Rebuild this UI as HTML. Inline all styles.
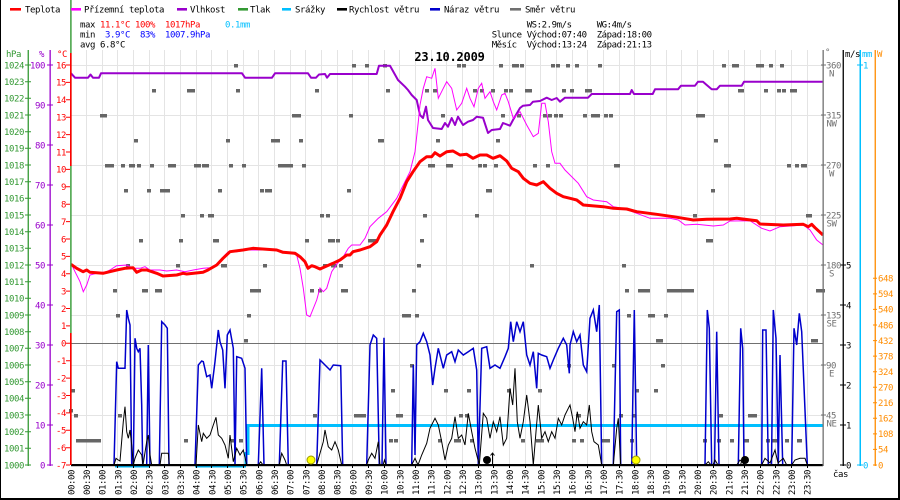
<!DOCTYPE html>
<html><head><meta charset="utf-8"><style>
html,body{margin:0;padding:0;background:#fff;}
svg{display:block;}
text{font-family:"DejaVu Sans Mono","Liberation Mono",monospace;font-size:9px;letter-spacing:-0.42px;}
.b{font-weight:bold;font-size:12px;letter-spacing:-0.2px;}
</style></head><body>
<svg width="900" height="500" viewBox="0 0 900 500" xmlns="http://www.w3.org/2000/svg">
<rect width="900" height="500" fill="#fff"/>
<!-- borders -->
<rect x="0" y="0" width="1" height="500" fill="#000"/>
<rect x="898" y="0" width="2" height="500" fill="#000"/>
<rect x="0" y="498" width="900" height="2" fill="#000"/>

<!-- grid -->
<path shape-rendering="crispEdges" stroke="#e4e4e4" stroke-width="1" fill="none" d="M86.5 50V465M102.5 50V465M117.5 50V465M133.5 50V465M149.5 50V465M164.5 50V465M180.5 50V465M196.5 50V465M211.5 50V465M227.5 50V465M243.5 50V465M258.5 50V465M274.5 50V465M290.5 50V465M305.5 50V465M321.5 50V465M337.5 50V465M352.5 50V465M368.5 50V465M384.5 50V465M399.5 50V465M415.5 50V465M431.5 50V465M446.5 50V465M462.5 50V465M478.5 50V465M493.5 50V465M509.5 50V465M525.5 50V465M540.5 50V465M556.5 50V465M572.5 50V465M587.5 50V465M603.5 50V465M619.5 50V465M634.5 50V465M650.5 50V465M666.5 50V465M681.5 50V465M697.5 50V465M713.5 50V465M728.5 50V465M744.5 50V465M760.5 50V465M775.5 50V465M791.5 50V465M807.5 50V465"/>
<path shape-rendering="crispEdges" stroke="#e4e4e4" stroke-width="1" fill="none" d="M71 65.5H823M71 115.5H823M71 165.5H823M71 215.5H823M71 265.5H823M71 315.5H823M71 365.5H823M71 415.5H823"/>
<path shape-rendering="crispEdges" stroke="#707070" stroke-width="1" d="M71 343.5H823"/>

<!-- title -->
<text class="b" x="449.5" y="61" text-anchor="middle" fill="#000">23.10.2009</text>

<!-- wind direction squares -->
<path shape-rendering="crispEdges" fill="#666" d="M234 64h4v3.4h-4zM352 64h4v3.4h-4zM365 64h4v3.4h-4zM383 64h4v3.4h-4zM457 64h4v3.4h-4zM462 64h4v3.4h-4zM499 64h4v3.4h-4zM512 64h7v3.4h-7zM520 64h4v3.4h-4zM551 64h4v3.4h-4zM556 64h4v3.4h-4zM566 64h4v3.4h-4zM575 64h4v3.4h-4zM598 64h4v3.4h-4zM722 64h4v3.4h-4zM732 64h7v3.4h-7zM756 64h8v3.4h-8zM769 64h4v3.4h-4zM780 64h4v3.4h-4z
M152 89h4v3.4h-4zM187 89h8v3.4h-8zM236 89h4v3.4h-4zM315 89h4v3.4h-4zM386 89h4v3.4h-4zM425 89h4v3.4h-4zM433 89h4v3.4h-4zM473 89h4v3.4h-4zM480 89h4v3.4h-4zM491 89h4v3.4h-4zM504 89h4v3.4h-4zM509 89h4v3.4h-4zM525 89h7v3.4h-7zM562 89h4v3.4h-4zM570 89h4v3.4h-4zM585 89h7v3.4h-7zM738 89h6v3.4h-6zM764 89h4v3.4h-4zM777 89h4v3.4h-4zM782 89h4v3.4h-4zM790 89h7v3.4h-7z
M100 114h7v3.4h-7zM292 114h9v3.4h-9zM349 114h4v3.4h-4zM441 114h4v3.4h-4zM501 114h4v3.4h-4zM517 114h4v3.4h-4zM543 114h4v3.4h-4zM548 114h4v3.4h-4zM554 114h4v3.4h-4zM559 114h4v3.4h-4zM583 114h4v3.4h-4zM591 114h9v3.4h-9zM604 114h4v3.4h-4zM609 114h4v3.4h-4zM696 114h9v3.4h-9z
M134 139h4v3.4h-4zM226 139h4v3.4h-4zM271 139h9v3.4h-9zM299 139h4v3.4h-4zM378 139h6v3.4h-6zM436 139h4v3.4h-4zM496 139h4v3.4h-4zM714 139h4v3.4h-4z
M105 164h9v3.4h-9zM121 164h4v3.4h-4zM129 164h6v3.4h-6zM137 164h4v3.4h-4zM150 164h4v3.4h-4zM168 164h8v3.4h-8zM194 164h7v3.4h-7zM202 164h7v3.4h-7zM229 164h4v3.4h-4zM242 164h4v3.4h-4zM278 164h15v3.4h-15zM302 164h4v3.4h-4zM428 164h7v3.4h-7zM446 164h7v3.4h-7zM478 164h4v3.4h-4zM483 164h4v3.4h-4zM494 164h4v3.4h-4zM533 164h4v3.4h-4zM546 164h4v3.4h-4zM614 164h6v3.4h-6zM724 164h7v3.4h-7zM787 164h4v3.4h-4zM795 164h4v3.4h-4zM801 164h6v3.4h-6z
M124 189h4v3.4h-4zM147 189h4v3.4h-4zM160 189h10v3.4h-10zM218 189h4v3.4h-4zM260 189h4v3.4h-4zM265 189h7v3.4h-7zM347 189h4v3.4h-4zM486 189h6v3.4h-6zM711 189h4v3.4h-4z
M181 214h4v3.4h-4zM200 214h4v3.4h-4zM208 214h6v3.4h-6zM320 214h4v3.4h-4zM326 214h4v3.4h-4zM423 214h4v3.4h-4zM475 214h4v3.4h-4zM693 214h4v3.4h-4zM806 214h6v3.4h-6z
M139 239h4v3.4h-4zM179 239h4v3.4h-4zM213 239h6v3.4h-6zM305 239h4v3.4h-4zM328 239h7v3.4h-7zM336 239h4v3.4h-4zM368 239h10v3.4h-10zM420 239h4v3.4h-4zM706 239h7v3.4h-7z
M126 264h4v3.4h-4zM176 264h4v3.4h-4zM221 264h6v3.4h-6zM263 264h4v3.4h-4zM323 264h4v3.4h-4zM331 264h6v3.4h-6zM339 264h4v3.4h-4zM417 264h4v3.4h-4zM530 264h4v3.4h-4zM622 264h4v3.4h-4z
M113 289h4v3.4h-4zM142 289h6v3.4h-6zM155 289h7v3.4h-7zM250 289h11v3.4h-11zM310 289h4v3.4h-4zM318 289h4v3.4h-4zM341 289h7v3.4h-7zM412 289h4v3.4h-4zM625 289h4v3.4h-4zM638 289h12v3.4h-12zM667 289h27v3.4h-27zM816 289h9v3.4h-9z
M116 314h4v3.4h-4zM247 314h4v3.4h-4zM402 314h9v3.4h-9zM415 314h4v3.4h-4zM627 314h4v3.4h-4zM648 314h7v3.4h-7zM664 314h4v3.4h-4z
M244 339h4v3.4h-4zM656 339h7v3.4h-7zM811 339h7v3.4h-7z
M410 364h4v3.4h-4zM567 364h4v3.4h-4zM612 364h4v3.4h-4zM661 364h4v3.4h-4z
M71 389h4v3.4h-4zM391 389h4v3.4h-4zM444 389h4v3.4h-4zM467 389h4v3.4h-4zM507 389h4v3.4h-4zM538 389h4v3.4h-4zM635 389h4v3.4h-4zM654 389h4v3.4h-4z
M69 409h4v3.4h-4zM74 414h4v3.4h-4zM118 414h4v3.4h-4zM313 414h4v3.4h-4zM354 414h12v3.4h-12zM396 414h7v3.4h-7zM459 414h4v3.4h-4zM465 414h4v3.4h-4zM576 414h5v3.4h-5zM619 414h4v3.4h-4zM632 414h4v3.4h-4zM719 414h4v3.4h-4zM748 414h9v3.4h-9z
M76 439h25v3.4h-25zM184 439h4v3.4h-4zM231 439h4v3.4h-4zM239 439h4v3.4h-4zM389 439h4v3.4h-4zM394 439h4v3.4h-4zM438 439h4v3.4h-4zM454 439h7v3.4h-7zM470 439h4v3.4h-4zM521 439h4v3.4h-4zM536 439h8v3.4h-8zM572 439h4v3.4h-4zM580 439h4v3.4h-4zM601 439h9v3.4h-9zM630 439h4v3.4h-4zM703 439h4v3.4h-4zM717 439h4v3.4h-4zM730 439h4v3.4h-4zM743 439h6v3.4h-6zM766 439h4v3.4h-4zM772 439h6v3.4h-6zM785 439h4v3.4h-4zM797 439h5v3.4h-5z"/>

<!-- rain -->
<path fill="none" stroke="#00bfff" stroke-width="2" d="M115 466.5H150M195 466.5H246"/>
<path fill="none" stroke="#00bfff" stroke-width="3" d="M246 465V453.5H248V425.5H823"/>

<!-- humidity -->
<path fill="none" stroke="#9900cc" stroke-width="2" stroke-linejoin="round" d="M71 73.3L75 77.7L88 77.7L90.5 74.5L93 77.7L99 77.7L101 73.3L242 73.3L245 77.7L272 77.7L275 73.3L308 73.3L311 77.7L316 77.7L319 74.5L325 74L327 77.7L330 74L376.7 74L379 65.7L390 65.7L398 80L405 86.7L408 90L411.7 95L416.7 100L420 115L423 118L426 106.7L428 120L433 128L441.7 129L445 123L448 126.7L451.7 118L455 125L458 116.7L463 125L468 121.7L473 120L476.7 116.7L483 117.7L488 133L491.7 130L500 129L503 123L510 125.7L513 120L520 108L523 105.7L530 105L533 101.7L540 101L546.7 97.7L551.7 100L556.7 98L560 101.7L565 97.7L588 97.7L591.7 94L630 94L631.7 90L634 94L652.7 94L655 89.3L678 89.3L681 85.7L695 85.7L698 81.7L703 81.7L706.7 85L711.7 89.3L716.7 89.3L720 85.7L741.7 85.7L744 81.7L823 81.7"/>

<!-- feels-like -->
<path fill="none" stroke="#ff00ff" stroke-width="1" d="M71 263.3L75 271.7L80 281.7L83.3 291.7L86.7 285L90 275L96.7 273.3L106.7 271.7L110 270L116.7 265.7L126.7 265L133.3 268.3L140 268.3L145 266.7L150 270L160 270L166.7 271L176.7 270L185 271.7L193.3 270L203.3 268.3L210 267.7L216.7 264.3L223.3 256.7L228.3 251.7L236.7 251.7L246.7 250L270 250L286.7 251.7L296.7 255L300 268.3L303.3 288.3L306.7 315L310 316.7L316.7 300L320 288L323.3 291.7L326.7 288.3L331.7 271.7L336.7 264.3L343.3 256.7L348.3 248.3L351.7 245L360 245L365 238.3L370 226.7L378.3 218.3L386.7 211.7L396.7 198.3L403.3 185L410 171.7L415 151.7L418.3 121.7L420 105L423.3 88.3L426.7 76.7L431.7 78.3L435 68.3L438.3 98.3L443.3 88.3L446.7 81.7L451.7 88.3L456.7 110L461.7 103.3L466.7 88.3L470 98.3L474 106.7L478.3 88.3L481.7 83.3L485 98.3L490 91.7L493.3 101.7L496.7 110L501.7 95L505 93.3L508.3 101.7L513.3 118.3L520 111.7L526.7 125L533.3 136.7L538.3 133.3L541.7 103.3L545 103.3L548.3 121.7L551.7 151.7L555 163.3L560 163.3L565 170L570 175L578.3 183.3L586.7 196.7L593.3 200L606.7 201.7L613.3 206.7L623.3 208.3L636.7 213.3L650 218.3L670 218.3L678.3 220L685 225L696.7 224.3L713.3 226L723.3 225L730 221L750 220.7L761.7 228.3L770 231L780 226.7L803.3 225L810 230L816.7 240L823 245"/>

<!-- temperature -->
<path fill="none" stroke="#ff0000" stroke-width="3" stroke-linejoin="round" d="M71 264.3L76.7 268.3L83 271.7L86.7 270L90 272.3L103 273.3L116.7 270L125 268.3L133 267.7L136.7 272.3L141.7 270L146.7 270L156.7 273.3L163 276L176.7 275L183 273.3L186.7 274L203 272.3L208 270L216.7 265L223 258.3L230 251.7L243 250L253 248.3L276.7 250L283 252.3L295 253.3L300 256.7L305 261.7L308 268.3L311.7 265.7L315 266.7L320 269L325 266.7L333 263.3L340 260L346.7 255L350 255L353 251.7L360 250L370 246.7L376.7 241.7L380 235L386.7 225L393 211.7L400 198.3L406.7 181.7L413 171.7L420 161.7L426.7 156.7L431.7 156.7L435 152.7L440 156L446.7 151.7L453 151L460 155L466.7 154.3L473 158.3L480 155L486.7 155L493 158.3L500 155.7L506.7 161L511.7 168.3L518.3 171.7L523.3 178.3L530 183.3L536.7 185L543.3 181.7L550 188.3L556.7 193.3L563.3 196.7L570 198.3L576.7 200L583.3 205L603.3 206.7L613.3 208.3L626.7 209L636.7 211.7L656.7 214.3L673.3 216.7L683.3 218.3L693.3 220L706.7 219.3L730 219L736.7 218.3L756.7 220.7L760 224L783.3 225L803.3 224.3L808.3 226.7L811.7 224.3L815 227.7L823 235"/>

<!-- wind gust -->
<path fill="none" stroke="#0000cc" stroke-width="1.5" d="M71 465L114 465L116.7 361.7L118.3 368.3L125 368.3L126.7 310L128.3 318.3L130 325L131.7 465L133.3 465L135 338.3L136.7 348.3L138.3 351.7L140 348.3L141.7 405L142.7 465L146.7 465L148.3 345L150 465L159.3 465L161.7 321.7L165 325L167.3 328.3L169 465L195 465L198.3 365L201.7 361L203.3 361.7L206.7 376.7L210 375L211.7 388.3L215 361.7L218.3 330L220 341.7L222.7 350L225 388.3L227.3 335L230 330L233.3 348.3L235 465L236.7 356.7L241.7 358.3L245 368.3L246.7 465L258.3 465L261.7 368.3L264 465L279.3 465L282.7 361L286 361L288.3 465L316.7 465L320 360L325 365L330 370L333.3 365L340.7 365.7L342.7 465L366.7 465L370 345L373.3 335L376.7 338.3L379.3 465L382 465L384 337.7L386 465L411.7 465L413.3 365L415 455L416.7 345L420 341.7L423.3 333.3L426.7 341.7L430 355L432.7 385L435 368.3L438.3 348.3L443.3 368.3L446.7 355L451.7 351.7L455 361.7L458.3 350L463.3 355L468.3 351.7L473.3 348.3L476.7 370L478.3 465L481.7 348.3L486.7 346.7L490 368.3L495 365L500 368.3L505 356.7L508.3 348.3L510.7 321.7L513.3 341.7L516.7 321.7L520 331.7L523.3 321.7L526.7 355L530 365L533.3 351.7L536.7 388.3L538.3 353.3L541.7 355L546.7 356.7L550 368.3L553.3 360L558.3 348.3L563.3 338.3L566.7 345L569.3 373.3L570 345L573.3 331.7L576.7 341.7L580 335L583.3 365L586.7 371.7L590 318.3L593.3 310L596.7 331.7L599.3 305L601.7 465L613.3 465L616.7 311.7L619.3 310L620.7 465L631.7 465L634.3 310L636.7 465L705 465L707.3 310L709.3 328.3L711.7 465L714.5 465L716.7 331.7L719 465L738.3 465L740.7 328.3L742.7 348.3L744 465L761.7 465L762.7 330L766 330L768.3 465L771.5 465L773.3 310L776 338.3L778.3 465L780 355L782.7 465L791.7 465L794 328.3L796.7 345L799.3 313.3L801.7 331.7L807.3 465L823 465"/>

<!-- wind speed -->
<path fill="none" stroke="#000" stroke-width="1" d="M71 465L114 465L116 458.3L118.3 460L120 461L123.3 421.7L125 406.7L126.7 431.7L128.3 438.3L130 430L131.7 445L133.3 465L135 458.3L138.3 450L141.7 455L143 465L146.7 441.7L148.3 435L150 455L151.7 465L160 465L161.7 453.3L168.3 453.3L169.3 465L196 465L198.3 425L201.7 441.7L203.3 433.3L206.7 438.3L210 435L213.3 425L216 417.3L218.3 435L221.7 438.3L225 445L228.3 458.3L230 435L233.3 461.7L236.7 448.3L240 455L243.3 450L246.7 465L258.3 465L260.7 461.7L263 465L279.3 465L281.7 453.3L285 460L286.7 465L316.7 465L320 453.3L323.3 441.7L325 430L328.3 446.7L331.7 450L335 441.7L338.3 450L341.7 465L366.7 465L368.3 460L371.7 453.3L375 458.3L378.3 441.7L380 465L383 465L384.5 460L386 465L411.7 465L415 458.3L418 465L421.7 455L426.7 443.3L430 428.3L435 418.3L438.3 425L441.7 441.7L445 460L448.3 445L451.7 438.3L455 416.7L458.3 438.3L461.7 435L465 445L468.3 413.3L471.7 431.7L475 448.3L479.3 465L483.3 413.3L486.7 418.3L490 438.3L493.3 421.7L496.7 431.7L500 416.7L503.3 445L506.7 438.3L510 388.3L512.7 405L515 368.3L517.3 421.7L520 438.3L523.3 421.7L526.7 395L530 421.7L533.3 465L536 431.7L538.3 405L541.7 438.3L545 431.7L548.3 441.7L551.7 431.7L555 438.3L558.3 418.3L561.7 425L565 415L568.3 408.3L570 405L572.7 418.3L575 431.7L577.3 411.7L580 428.3L583.3 421.7L586.7 425L589.3 405L591.7 431.7L594 441.7L598.3 445L601.7 465L613.3 465L616.7 428.3L618.3 418.3L620.7 465L705 465L708.3 461.7L711 465L713 465L715 460L718 465L736.7 465L740 460L743 463L744 465L761.7 465L765 458.3L770 463L775 450L778 463L783.3 458.3L786.7 465L791.7 465L795 460L800 458.3L805 458.3L807.3 465L823 465"/>
<rect x="71" y="464" width="752" height="2.2" fill="#000"/>
<path stroke="#000" stroke-width="1" d="M86.5 465V468M102.5 465V468M117.5 465V468M133.5 465V468M149.5 465V468M164.5 465V468M180.5 465V468M196.5 465V468M211.5 465V468M227.5 465V468M243.5 465V468M258.5 465V468M274.5 465V468M290.5 465V468M305.5 465V468M321.5 465V468M337.5 465V468M352.5 465V468M368.5 465V468M384.5 465V468M399.5 465V468M415.5 465V468M431.5 465V468M446.5 465V468M462.5 465V468M478.5 465V468M493.5 465V468M509.5 465V468M525.5 465V468M540.5 465V468M556.5 465V468M572.5 465V468M587.5 465V468M603.5 465V468M619.5 465V468M634.5 465V468M650.5 465V468M666.5 465V468M681.5 465V468M697.5 465V468M713.5 465V468M728.5 465V468M744.5 465V468M760.5 465V468M775.5 465V468M791.5 465V468M807.5 465V468"/>

<!-- sun / moon markers -->
<circle cx="311" cy="460" r="4" fill="#ffff00" stroke="#999900" stroke-width="1"/>
<circle cx="636" cy="460" r="4" fill="#ffff00" stroke="#999900" stroke-width="1"/>
<circle cx="487" cy="460" r="4" fill="#000"/>
<circle cx="745" cy="460" r="4" fill="#000"/>
<path stroke="#000" stroke-width="1" fill="none" d="M492.5 465V453M490.5 455.5L492.5 453L494.5 455.5M740.5 465L742 460"/>

<!-- left axes -->
<rect x="70.2" y="0" width="1.4" height="465" fill="#339933"/>
<rect x="70" y="53" width="1.6" height="113" fill="#ff0000"/>
<rect x="70" y="333" width="1.6" height="132" fill="#ff0000"/>
<rect x="27.6" y="50" width="1.3" height="416" fill="#339933"/>
<rect x="49.5" y="50" width="1.3" height="416" fill="#9900cc"/>
<path stroke="#339933" stroke-width="1" d="M25 65H31M25 81.7H31M25 98.3H31M25 115H31M25 131.7H31M25 148.3H31M25 165H31M25 181.7H31M25 198.3H31M25 215H31M25 231.7H31M25 248.3H31M25 265H31M25 281.7H31M25 298.3H31M25 315H31M25 331.7H31M25 348.3H31M25 365H31M25 381.7H31M25 398.3H31M25 415H31M25 431.7H31M25 448.3H31M25 465H31"/>
<path stroke="#9900cc" stroke-width="1" d="M47 65H53M47 105H53M47 145H53M47 185H53M47 225H53M47 265H53M47 305H53M47 345H53M47 385H53M47 425H53M47 465H53"/>
<path stroke="#ff0000" stroke-width="1" d="M66 65H70M66 82.4H70M66 99.8H70M66 117.2H70M66 134.6H70M66 152H70M66 169.4H70M66 186.8H70M66 204.2H70M66 221.6H70M66 239H70M66 256.4H70M66 273.7H70M66 291.1H70M66 308.5H70M66 325.9H70M66 343.3H70M66 360.7H70M66 378.1H70M66 395.5H70M66 412.9H70M66 430.3H70M66 447.7H70M66 465H70"/>

<text x="6" y="57" fill="#339933">hPa</text>
<text x="39" y="57" fill="#9900cc">%</text>
<text x="57" y="57" fill="#ff0000">°C</text>

<g fill="#339933" text-anchor="end">
<text x="24" y="68.3">1024</text><text x="24" y="85">1023</text><text x="24" y="101.7">1022</text><text x="24" y="118.3">1021</text><text x="24" y="135">1020</text><text x="24" y="151.7">1019</text><text x="24" y="168.3">1018</text><text x="24" y="185">1017</text><text x="24" y="201.7">1016</text><text x="24" y="218.3">1015</text><text x="24" y="235">1014</text><text x="24" y="251.7">1013</text><text x="24" y="268.3">1012</text><text x="24" y="285">1011</text><text x="24" y="301.7">1010</text><text x="24" y="318.3">1009</text><text x="24" y="335">1008</text><text x="24" y="351.7">1007</text><text x="24" y="368.3">1006</text><text x="24" y="385">1005</text><text x="24" y="401.7">1004</text><text x="24" y="418.3">1003</text><text x="24" y="435">1002</text><text x="24" y="451.7">1001</text><text x="24" y="468.3">1000</text>
</g>
<g fill="#9900cc" text-anchor="end">
<text x="45" y="68.3">100</text><text x="45" y="108.3">90</text><text x="45" y="148.3">80</text><text x="45" y="188.3">70</text><text x="45" y="228.3">60</text><text x="45" y="268.3">50</text><text x="45" y="308.3">40</text><text x="45" y="348.3">30</text><text x="45" y="388.3">20</text><text x="45" y="428.3">10</text><text x="45" y="468.3">0</text>
</g>
<g fill="#ff0000" text-anchor="end">
<text x="66" y="68.3">16</text><text x="66" y="85.7">15</text><text x="66" y="103.1">14</text><text x="66" y="120.5">13</text><text x="66" y="137.9">12</text><text x="66" y="155.3">11</text><text x="66" y="172.7">10</text><text x="66" y="190.1">9</text><text x="66" y="207.5">8</text><text x="66" y="224.9">7</text><text x="66" y="242.3">6</text><text x="66" y="259.7">5</text><text x="66" y="277">4</text><text x="66" y="294.4">3</text><text x="66" y="311.8">2</text><text x="66" y="329.2">1</text><text x="66" y="346.6">0</text><text x="66" y="364">-1</text><text x="66" y="381.4">-2</text><text x="66" y="398.8">-3</text><text x="66" y="416.2">-4</text><text x="66" y="433.6">-5</text><text x="66" y="451">-6</text><text x="66" y="468.4">-7</text>
</g>

<!-- right axes -->
<rect x="822.5" y="50" width="1.3" height="416" fill="#707070"/>
<rect x="842.6" y="50" width="1.3" height="416" fill="#000"/>
<rect x="859.5" y="50" width="1.5" height="416" fill="#00bfff"/>
<rect x="874.6" y="50" width="1.3" height="416" fill="#ff8c00"/>
<path stroke="#707070" stroke-width="1" d="M821 65H826M821 115H826M821 165H826M821 215H826M821 265H826M821 315H826M821 365H826M821 415H826"/>
<path stroke="#000" stroke-width="1" d="M840 265H846M840 305H846M840 345H846M840 385H846M840 425H846M840 465H846"/>
<path stroke="#00bfff" stroke-width="1" d="M857 65H863M857 465H863"/>
<path stroke="#ff8c00" stroke-width="1" d="M873 278.3H877M873 293.9H877M873 309.4H877M873 325H877M873 340.6H877M873 356.1H877M873 371.7H877M873 387.2H877M873 402.8H877M873 418.3H877M873 433.9H877M873 449.4H877M873 465H877"/>

<text x="825" y="55" fill="#707070">°</text>
<text x="845" y="57" fill="#000">m/s</text>
<text x="862" y="57" fill="#00bfff">mm</text>
<text x="877" y="57" fill="#ff8c00">W</text>

<g fill="#707070">
<text x="826" y="68.5">360</text><text x="831.5" y="76.5" text-anchor="middle">N</text>
<text x="826" y="118.5">315</text><text x="831.5" y="126.5" text-anchor="middle">NW</text>
<text x="826" y="168.5">270</text><text x="831.5" y="176.5" text-anchor="middle">W</text>
<text x="826" y="218.5">225</text><text x="831.5" y="226.5" text-anchor="middle">SW</text>
<text x="826" y="268.5">180</text><text x="831.5" y="276.5" text-anchor="middle">S</text>
<text x="826" y="318.5">135</text><text x="831.5" y="326.5" text-anchor="middle">SE</text>
<text x="826" y="368.5">90</text><text x="831.5" y="376.5" text-anchor="middle">E</text>
<text x="826" y="418.5">45</text><text x="831.5" y="426.5" text-anchor="middle">NE</text>
</g>
<g fill="#000">
<text x="846" y="268.3">5</text><text x="846" y="308.3">4</text><text x="846" y="348.3">3</text><text x="846" y="388.3">2</text><text x="846" y="428.3">1</text><text x="846" y="468.3">0</text>
</g>
<g fill="#00bfff">
<text x="863" y="68.3">1</text><text x="863" y="468.3">0</text>
</g>
<g fill="#ff8c00">
<text x="878" y="281.6">648</text><text x="878" y="297.2">594</text><text x="878" y="312.7">540</text><text x="878" y="328.3">486</text><text x="878" y="343.9">432</text><text x="878" y="359.4">378</text><text x="878" y="375">324</text><text x="878" y="390.5">270</text><text x="878" y="406.1">216</text><text x="878" y="421.6">162</text><text x="878" y="437.2">108</text><text x="878" y="452.7">54</text><text x="878" y="468.3">0</text>
</g>
<text x="833" y="477" fill="#000">čas</text>

<!-- time labels -->
<g fill="#000">
<text transform="translate(74.3,495) rotate(-90)">00:00</text>
<text transform="translate(90,495) rotate(-90)">00:30</text>
<text transform="translate(105.6,495) rotate(-90)">01:00</text>
<text transform="translate(121.3,495) rotate(-90)">01:30</text>
<text transform="translate(137,495) rotate(-90)">02:00</text>
<text transform="translate(152.6,495) rotate(-90)">02:30</text>
<text transform="translate(168.3,495) rotate(-90)">03:00</text>
<text transform="translate(184,495) rotate(-90)">03:30</text>
<text transform="translate(199.6,495) rotate(-90)">04:00</text>
<text transform="translate(215.3,495) rotate(-90)">04:30</text>
<text transform="translate(231,495) rotate(-90)">05:00</text>
<text transform="translate(246.6,495) rotate(-90)">05:30</text>
<text transform="translate(262.3,495) rotate(-90)">06:00</text>
<text transform="translate(278,495) rotate(-90)">06:30</text>
<text transform="translate(293.6,495) rotate(-90)">07:00</text>
<text transform="translate(309.3,495) rotate(-90)">07:30</text>
<text transform="translate(325,495) rotate(-90)">08:00</text>
<text transform="translate(340.6,495) rotate(-90)">08:30</text>
<text transform="translate(356.3,495) rotate(-90)">09:00</text>
<text transform="translate(372,495) rotate(-90)">09:30</text>
<text transform="translate(387.6,495) rotate(-90)">10:00</text>
<text transform="translate(403.3,495) rotate(-90)">10:30</text>
<text transform="translate(419,495) rotate(-90)">11:00</text>
<text transform="translate(434.6,495) rotate(-90)">11:30</text>
<text transform="translate(450.3,495) rotate(-90)">12:00</text>
<text transform="translate(466,495) rotate(-90)">12:30</text>
<text transform="translate(481.6,495) rotate(-90)">13:00</text>
<text transform="translate(497.3,495) rotate(-90)">13:30</text>
<text transform="translate(513,495) rotate(-90)">14:00</text>
<text transform="translate(528.6,495) rotate(-90)">14:30</text>
<text transform="translate(544.3,495) rotate(-90)">15:00</text>
<text transform="translate(560,495) rotate(-90)">15:30</text>
<text transform="translate(575.6,495) rotate(-90)">16:00</text>
<text transform="translate(591.3,495) rotate(-90)">16:30</text>
<text transform="translate(607,495) rotate(-90)">17:00</text>
<text transform="translate(622.6,495) rotate(-90)">17:30</text>
<text transform="translate(638.3,495) rotate(-90)">18:00</text>
<text transform="translate(654,495) rotate(-90)">18:30</text>
<text transform="translate(669.6,495) rotate(-90)">19:00</text>
<text transform="translate(685.3,495) rotate(-90)">19:30</text>
<text transform="translate(701,495) rotate(-90)">20:00</text>
<text transform="translate(716.6,495) rotate(-90)">20:30</text>
<text transform="translate(732.3,495) rotate(-90)">21:00</text>
<text transform="translate(748,495) rotate(-90)">21:30</text>
<text transform="translate(763.6,495) rotate(-90)">22:00</text>
<text transform="translate(779.3,495) rotate(-90)">22:30</text>
<text transform="translate(795,495) rotate(-90)">23:00</text>
<text transform="translate(810.6,495) rotate(-90)">23:30</text>
</g>

<!-- legend -->
<rect x="10" y="8" width="11" height="2.6" fill="#ff0000"/>
<text x="25" y="12.5" fill="#000">Teplota</text>
<rect x="71" y="8" width="10" height="2.6" fill="#ff00ff"/>
<text x="84" y="12.5" fill="#000">Přízemní teplota</text>
<rect x="177" y="8" width="10" height="2.6" fill="#9900cc"/>
<text x="190" y="12.5" fill="#000">Vlhkost</text>
<rect x="238" y="8" width="10" height="2.6" fill="#339933"/>
<text x="250" y="12.5" fill="#000">Tlak</text>
<rect x="282" y="8" width="9" height="2.6" fill="#00bfff"/>
<text x="295" y="12.5" fill="#000">Srážky</text>
<rect x="337" y="8" width="10" height="2.6" fill="#000"/>
<text x="349" y="12.5" fill="#000">Rychlost větru</text>
<rect x="430" y="8" width="10" height="2.6" fill="#0000cc"/>
<text x="444" y="12.5" fill="#000">Náraz větru</text>
<rect x="510" y="8" width="11" height="2.6" fill="#707070"/>
<text x="525" y="12.5" fill="#000">Směr větru</text>

<!-- stats -->
<text x="80" y="27.5" fill="#000">max</text>
<text x="100" y="27.5" fill="#ff0000">11.1°C</text>
<text x="135" y="27.5" fill="#ff0000">100%</text>
<text x="165" y="27.5" fill="#ff0000">1017hPa</text>
<text x="225" y="27.5" fill="#00bfff">0.1mm</text>
<text x="80" y="37.5" fill="#000">min</text>
<text x="105" y="37.5" fill="#0000ff">3.9°C</text>
<text x="140" y="37.5" fill="#0000ff">83%</text>
<text x="165" y="37.5" fill="#0000ff">1007.9hPa</text>
<text x="80" y="47.5" fill="#000">avg</text>
<text x="100" y="47.5" fill="#000">6.8°C</text>

<text x="526.7" y="27.5" fill="#000">WS:2.9m/s</text>
<text x="596.7" y="27.5" fill="#000">WG:4m/s</text>
<text x="491.7" y="37.5" fill="#000">Slunce</text>
<text x="526.7" y="37.5" fill="#000">Východ:07:40</text>
<text x="596.7" y="37.5" fill="#000">Západ:18:00</text>
<text x="491.7" y="47.5" fill="#000">Měsíc</text>
<text x="526.7" y="47.5" fill="#000">Východ:13:24</text>
<text x="596.7" y="47.5" fill="#000">Západ:21:13</text>
</svg>
</body></html>
